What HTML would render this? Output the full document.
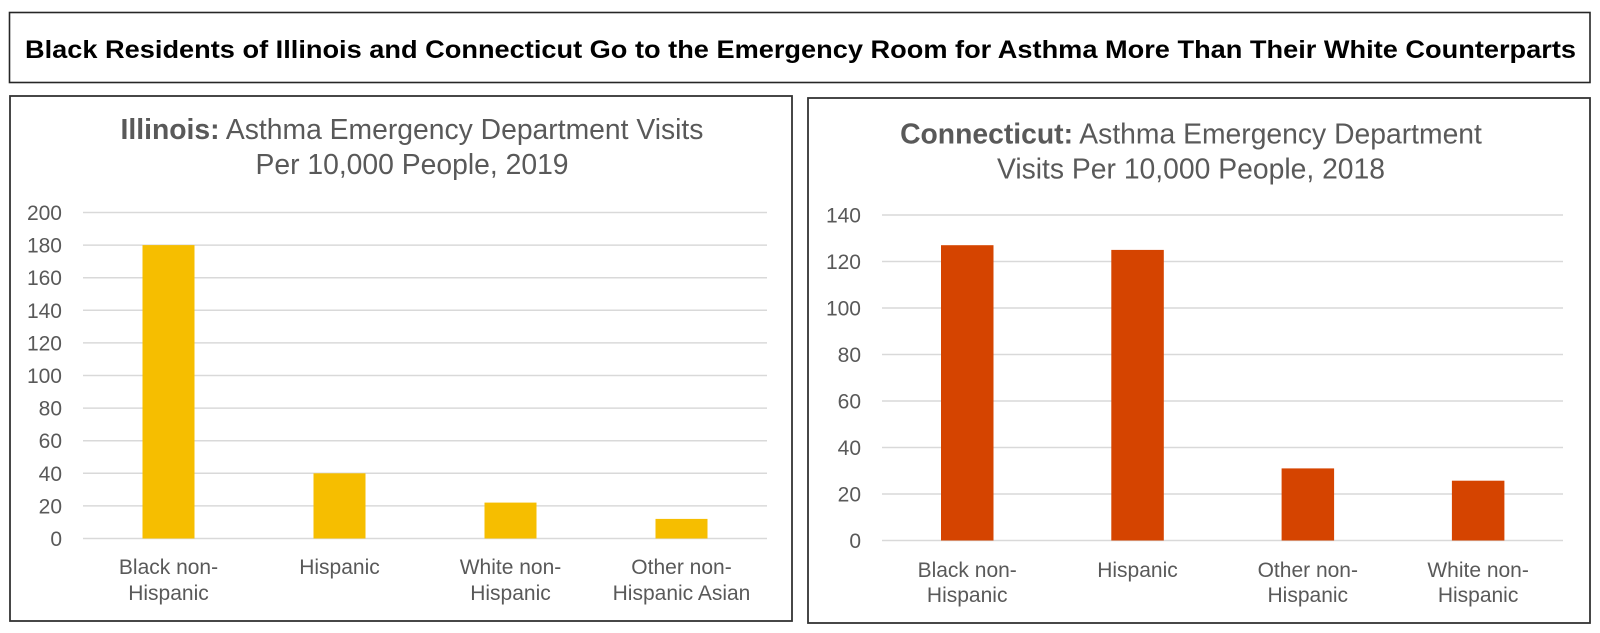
<!DOCTYPE html>
<html>
<head>
<meta charset="utf-8">
<style>
  html, body { margin: 0; padding: 0; background: #ffffff; }
  svg { display: block; }
  text { font-family: "Liberation Sans", "DejaVu Sans", sans-serif; }
</style>
</head>
<body>
<svg width="1600" height="633" viewBox="0 0 1600 633" xmlns="http://www.w3.org/2000/svg">
  <rect x="0" y="0" width="1600" height="633" fill="#ffffff"/>

  <!-- Main title box -->
  <rect x="9.5" y="12.5" width="1580.5" height="70" fill="#ffffff" stroke="#262626" stroke-width="1.6"/>
  <text x="25" y="58" font-size="25" font-weight="bold" fill="#000000" textLength="1551" lengthAdjust="spacingAndGlyphs">Black Residents of Illinois and Connecticut Go to the Emergency Room for Asthma More Than Their White Counterparts</text>

  <!-- Left panel -->
  <rect x="10" y="96" width="782" height="525" fill="#ffffff" stroke="#333333" stroke-width="1.8"/>
  <text x="412" y="139" font-size="28.3" fill="#595959" text-anchor="middle"><tspan font-weight="bold">Illinois:</tspan> Asthma Emergency Department Visits</text>
  <text x="412" y="174" font-size="28.3" fill="#595959" text-anchor="middle">Per 10,000 People, 2019</text>

  <!-- Left gridlines -->
  <g stroke="#d9d9d9" stroke-width="1.5">
    <line x1="83" y1="212.5" x2="767" y2="212.5"/>
    <line x1="83" y1="245.1" x2="767" y2="245.1"/>
    <line x1="83" y1="277.7" x2="767" y2="277.7"/>
    <line x1="83" y1="310.3" x2="767" y2="310.3"/>
    <line x1="83" y1="342.9" x2="767" y2="342.9"/>
    <line x1="83" y1="375.5" x2="767" y2="375.5"/>
    <line x1="83" y1="408.1" x2="767" y2="408.1"/>
    <line x1="83" y1="440.7" x2="767" y2="440.7"/>
    <line x1="83" y1="473.3" x2="767" y2="473.3"/>
    <line x1="83" y1="505.9" x2="767" y2="505.9"/>
    <line x1="83" y1="538.5" x2="767" y2="538.5"/>
  </g>
  <g font-size="21" fill="#595959" text-anchor="end">
    <text x="62" y="220">200</text>
    <text x="62" y="252.6">180</text>
    <text x="62" y="285.2">160</text>
    <text x="62" y="317.8">140</text>
    <text x="62" y="350.4">120</text>
    <text x="62" y="383">100</text>
    <text x="62" y="415.6">80</text>
    <text x="62" y="448.2">60</text>
    <text x="62" y="480.8">40</text>
    <text x="62" y="513.4">20</text>
    <text x="62" y="546">0</text>
  </g>
  <!-- Left bars -->
  <g fill="#f6be00">
    <rect x="142.5" y="245.1" width="52" height="293.4"/>
    <rect x="313.5" y="473.3" width="52" height="65.2"/>
    <rect x="484.5" y="502.6" width="52" height="35.9"/>
    <rect x="655.5" y="518.9" width="52" height="19.6"/>
  </g>
  <g font-size="21" fill="#595959" text-anchor="middle">
    <text x="168.5" y="574">Black non-</text>
    <text x="168.5" y="600">Hispanic</text>
    <text x="339.5" y="574">Hispanic</text>
    <text x="510.5" y="574">White non-</text>
    <text x="510.5" y="600">Hispanic</text>
    <text x="681.5" y="574">Other non-</text>
    <text x="681.5" y="600">Hispanic Asian</text>
  </g>

  <!-- Right panel -->
  <rect x="808" y="98" width="782" height="525" fill="#ffffff" stroke="#333333" stroke-width="1.8"/>
  <text x="1191" y="143.5" font-size="28.3" fill="#595959" text-anchor="middle"><tspan font-weight="bold">Connecticut:</tspan> Asthma Emergency Department</text>
  <text x="1191" y="178.5" font-size="28.3" fill="#595959" text-anchor="middle">Visits Per 10,000 People, 2018</text>

  <!-- Right gridlines -->
  <g stroke="#d9d9d9" stroke-width="1.5">
    <line x1="882" y1="215" x2="1563" y2="215"/>
    <line x1="882" y1="261.5" x2="1563" y2="261.5"/>
    <line x1="882" y1="308" x2="1563" y2="308"/>
    <line x1="882" y1="354.5" x2="1563" y2="354.5"/>
    <line x1="882" y1="401" x2="1563" y2="401"/>
    <line x1="882" y1="447.5" x2="1563" y2="447.5"/>
    <line x1="882" y1="494" x2="1563" y2="494"/>
    <line x1="882" y1="540.5" x2="1563" y2="540.5"/>
  </g>
  <g font-size="21" fill="#595959" text-anchor="end">
    <text x="861" y="222.5">140</text>
    <text x="861" y="269">120</text>
    <text x="861" y="315.5">100</text>
    <text x="861" y="362">80</text>
    <text x="861" y="408.5">60</text>
    <text x="861" y="455">40</text>
    <text x="861" y="501.5">20</text>
    <text x="861" y="548">0</text>
  </g>
  <!-- Right bars -->
  <g fill="#d54400">
    <rect x="941" y="245.2" width="52.5" height="295.3"/>
    <rect x="1111.3" y="249.9" width="52.5" height="290.6"/>
    <rect x="1281.6" y="468.4" width="52.5" height="72.1"/>
    <rect x="1451.9" y="480.7" width="52.5" height="59.8"/>
  </g>
  <g font-size="21" fill="#595959" text-anchor="middle">
    <text x="967.2" y="577">Black non-</text>
    <text x="967.2" y="602">Hispanic</text>
    <text x="1137.5" y="577">Hispanic</text>
    <text x="1307.8" y="577">Other non-</text>
    <text x="1307.8" y="602">Hispanic</text>
    <text x="1478.1" y="577">White non-</text>
    <text x="1478.1" y="602">Hispanic</text>
  </g>
</svg>
</body>
</html>
